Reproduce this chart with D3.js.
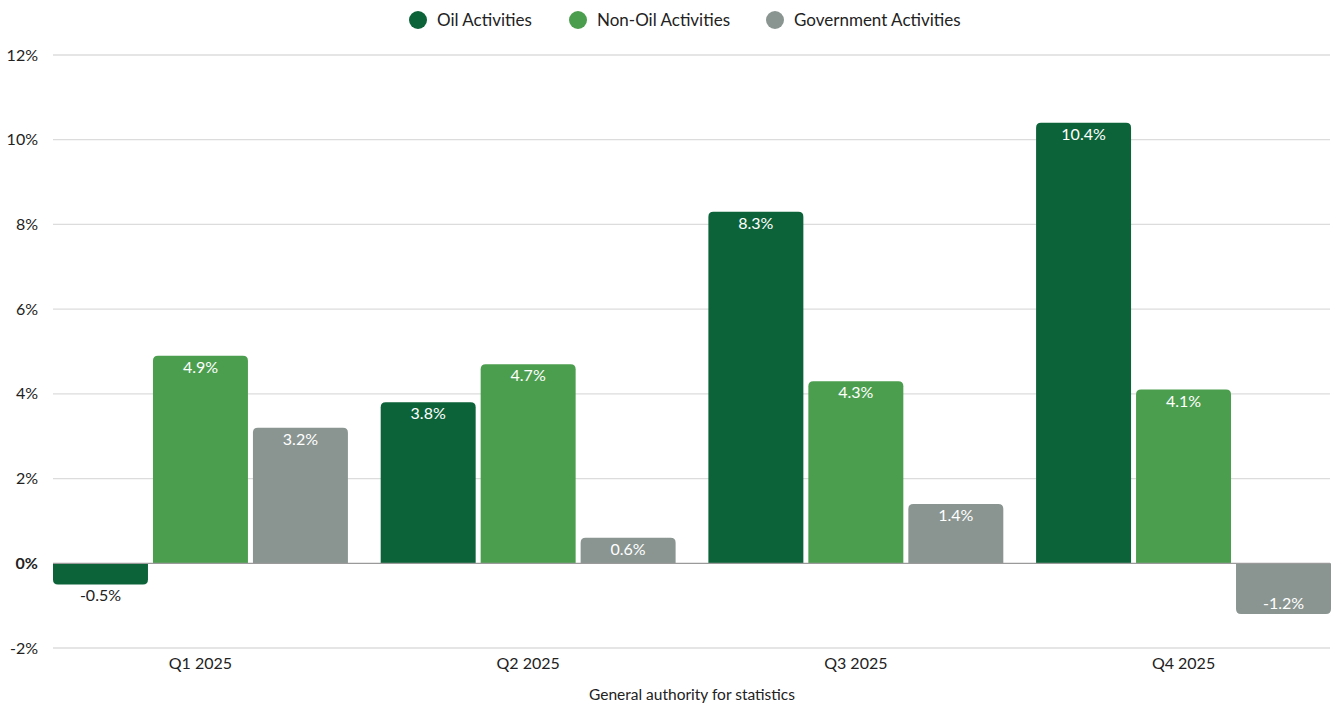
<!DOCTYPE html>
<html>
<head>
<meta charset="utf-8">
<script src="https://cdn.jsdelivr.net/npm/d3@7"></script>
<style>
  body { margin: 0; background: #fff; }
  svg { font-family: Lato, "Open Sans", sans-serif; }
  .grid line { stroke: #dcdcdc; stroke-width: 1.3; }
</style>
</head>
<body>
<svg width="1334" height="704"></svg>
<script>
var quarters = ["Q1 2025", "Q2 2025", "Q3 2025", "Q4 2025"];
var seriesNames = ["Oil Activities", "Non-Oil Activities", "Government Activities"];
var seriesColors = ["#0d6339", "#4c9e4f", "#8a9591"];
var oilValues = [-0.5, 3.8, 8.3, 10.4];
var nonOilValues = [4.9, 4.7, 4.3, 4.1];
var govValues = [3.2, 0.6, 1.4, -1.2];
var yTicks = [-2, 0, 2, 4, 6, 8, 10, 12];
var sourceNote = "General authority for statistics";

var svg = d3.select("svg");
var seriesValues = [oilValues, nonOilValues, govValues];

var x0 = d3.scaleBand().domain(quarters).range([53, 1331]).paddingInner(0.1).paddingOuter(0);
var x1 = d3.scaleBand().domain(d3.range(3)).range([0, x0.bandwidth()]).paddingInner(0.05).paddingOuter(0);
var y = d3.scaleLinear().domain([-2, 12]).range([648, 55]);

// gridlines
var grid = svg.append("g").attr("class", "grid");
grid.selectAll("line")
    .data(yTicks.filter(d => d !== 0))
    .enter().append("line")
    .attr("x1", 53).attr("x2", 1330)
    .attr("y1", d => y(d)).attr("y2", d => y(d));

// y labels
svg.append("g").selectAll("text")
    .data(yTicks)
    .enter().append("text")
    .attr("x", 38)
    .attr("y", d => y(d))
    .attr("dy", "0.35em")
    .attr("text-anchor", "end")
    .attr("font-size", 16)
    .attr("font-weight", d => d === 0 ? 700 : 400)
    .attr("fill", "#222")
    .text(d => d + "%");

// bars
var R = 5;
function barPath(x, w, v) {
    var y0 = y(0), y1 = y(v);
    var r = Math.min(R, Math.abs(y1 - y0));
    if (v >= 0) {
        return "M" + x + "," + y0 + "V" + (y1 + r) + "Q" + x + "," + y1 + " " + (x + r) + "," + y1 +
            "H" + (x + w - r) + "Q" + (x + w) + "," + y1 + " " + (x + w) + "," + (y1 + r) + "V" + y0 + "Z";
    }
    return "M" + x + "," + y0 + "V" + (y1 - r) + "Q" + x + "," + y1 + " " + (x + r) + "," + y1 +
        "H" + (x + w - r) + "Q" + (x + w) + "," + y1 + " " + (x + w) + "," + (y1 - r) + "V" + y0 + "Z";
}

var barData = [];
quarters.forEach((q, qi) => {
    seriesValues.forEach((vals, si) => {
        barData.push({ q: q, s: si, v: vals[qi] });
    });
});

svg.append("g").selectAll("path")
    .data(barData)
    .enter().append("path")
    .attr("d", d => barPath(x0(d.q) + x1(d.s), x1.bandwidth(), d.v))
    .attr("fill", d => seriesColors[d.s]);

// zero line
svg.append("line")
    .attr("x1", 53).attr("x2", 1330)
    .attr("y1", y(0)).attr("y2", y(0))
    .attr("stroke", "#9a9a9a").attr("stroke-width", 1.3);

// value labels (outside only when the bar is too short)
var tooShort = d => Math.abs(y(d.v) - y(0)) < 23;
svg.append("g").selectAll("text")
    .data(barData)
    .enter().append("text")
    .attr("x", d => x0(d.q) + x1(d.s) + x1.bandwidth() / 2)
    .attr("y", d => {
        if (tooShort(d)) return d.v >= 0 ? y(d.v) - 8 : y(d.v) + 17;
        return d.v >= 0 ? y(d.v) + 17 : y(d.v) - 5;
    })
    .attr("text-anchor", "middle")
    .attr("font-size", 16)
    .attr("fill", d => tooShort(d) ? "#222" : "#fff")
    .text(d => d.v.toFixed(1) + "%");

// x labels
svg.append("g").selectAll("text")
    .data(quarters)
    .enter().append("text")
    .attr("x", d => x0(d) + x0.bandwidth() / 2)
    .attr("y", 669)
    .attr("text-anchor", "middle")
    .attr("font-size", 16)
    .attr("fill", "#222")
    .text(d => d);

// source
svg.append("text")
    .attr("x", 692).attr("y", 700)
    .attr("text-anchor", "middle")
    .attr("font-size", 15.5)
    .attr("fill", "#222")
    .text(sourceNote);

// legend
var legendX = [418, 578, 775];
var legend = svg.append("g").selectAll("g")
    .data(seriesNames)
    .enter().append("g")
    .attr("transform", (d, i) => "translate(" + legendX[i] + ",20)");
legend.append("circle").attr("r", 9).attr("fill", (d, i) => seriesColors[i]);
legend.append("text")
    .attr("x", 19).attr("dy", "0.35em")
    .attr("font-size", 17)
    .attr("fill", "#222")
    .text(d => d);
</script>
</body>
</html>
